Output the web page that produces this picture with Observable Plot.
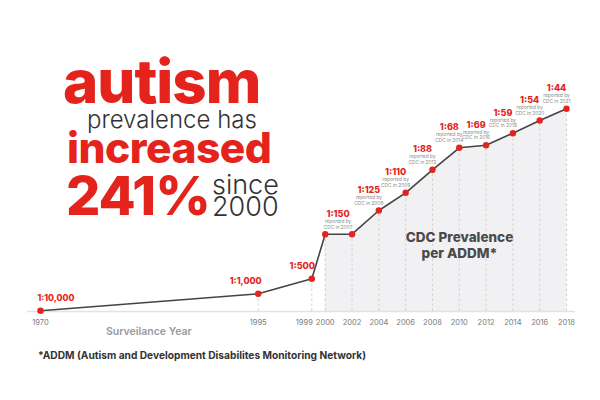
<!DOCTYPE html>
<html><head><meta charset="utf-8">
<script src="https://cdn.jsdelivr.net/npm/d3@7"></script>
<script src="https://cdn.jsdelivr.net/npm/@observablehq/plot@0.6"></script>
<style>
body{margin:0;background:#fff;font-family:Inter,"Open Sans",sans-serif}
#wrap{position:relative;width:600px;height:400px;overflow:hidden;background:#fff}
#chart{position:absolute;left:0;top:0}
.t{position:absolute;white-space:nowrap;line-height:1}
.b{line-height:0.75}
.red{color:#e4241c;font-weight:800}
.dark{color:#333;font-weight:300}
</style></head><body>
<div id="wrap">
<div id="chart"></div>
<div class="t b red" style="left:63px;top:58.5px;font-size:60px;letter-spacing:-1px">autism</div>
<div class="t b dark" style="left:87px;top:111px;font-size:24px">prevalence has</div>
<div class="t b red" style="left:67px;top:132.3px;font-size:42.5px;letter-spacing:-0.5px">increased</div>
<div class="t b red" style="left:66px;top:175.7px;font-size:54px;letter-spacing:-1px">241%</div>
<div class="t b dark" style="left:212px;top:175.4px;font-size:27px">since</div>
<div class="t b dark" style="left:212px;top:197.4px;font-size:27px">2000</div>
<div class="t" style="left:106px;top:327px;font-size:10.5px;font-weight:600;color:#9a9a9a">Surveilance Year</div>
<div class="t" style="left:38px;top:350px;font-size:10.2px;font-weight:700;color:#333">*ADDM (Autism and Development Disabilites Monitoring Network)</div>
</div>
<script>
const years = [1970, 1995, 1999, 2000, 2002, 2004, 2006, 2008, 2010, 2012, 2014, 2016, 2018];
const levels = [0.7, 17.7, 32.7, 77.3, 77.3, 101, 118.7, 141.7, 163.7, 166.3, 178.3, 191, 202.7];
const ratios = ["1:10,000", "1:1,000", "1:500", "", "1:150", "1:125", "1:110", "1:88", "1:68", "1:69", "1:59", "1:54", "1:44"];
const reportedIn = [null, null, null, null, 2007, 2009, 2009, 2012, 2014, 2016, 2018, 2020, 2021];
const tickYears = [1970, 1995, 1999, 2000, 2002, 2004, 2006, 2008, 2010, 2012, 2014, 2016, 2018];
const annotation = "CDC Prevalence\nper ADDM*";

const data = years.map((year, i) => ({year, level: levels[i], ratio: ratios[i], reported: reportedIn[i]}));
const RED = "#e4241c";
const FONT = "Inter, 'Open Sans', sans-serif";
const note = d => "reported by\nCDC in " + d.reported;

const chart = Plot.plot({
  width: 600, height: 400,
  marginLeft: 27, marginRight: 25, marginTop: 0, marginBottom: 0,
  style: {fontFamily: FONT, background: "transparent"},
  x: {type: "linear", domain: [1970, 1995, 2018], range: [40, 257.7, 566], axis: null},
  y: {domain: [0, 200], range: [311, 111], axis: null},
  marks: [
    Plot.areaY(data, {filter: d => d.year >= 2000, x: "year", y: "level", fill: "#f1f1f3"}),
    Plot.ruleX(data, {filter: d => d.year > 1970, x: "year", y1: 0, y2: "level", stroke: "#d9cfca", strokeWidth: 1, strokeDasharray: "2.5,2.5"}),
    Plot.ruleY([0], {stroke: "#e2e2e2", strokeWidth: 1.5}),
    Plot.line(data, {x: "year", y: "level", stroke: "#444", strokeWidth: 1.6}),
    Plot.dot(data, {x: "year", y: "level", r: 3.2, fill: RED}),
    // value labels
    Plot.text(data, {filter: d => d.year === 1970, x: "year", y: "level", text: "ratio", dx: -3, dy: -13, textAnchor: "start", fill: RED, fontWeight: 800, fontSize: 8.6}),
    Plot.text(data, {filter: d => d.year === 1995, x: "year", y: "level", text: "ratio", dx: -12.5, dy: -12.5, fill: RED, fontWeight: 800, fontSize: 8.8}),
    Plot.text(data, {filter: d => d.year === 1999, x: "year", y: "level", text: "ratio", dx: -9.5, dy: -12.5, fill: RED, fontWeight: 800, fontSize: 9}),
    Plot.text(data, {filter: d => d.year === 2002, x: "year", y: "level", text: "ratio", dx: -14, dy: -20, fill: RED, fontWeight: 800, fontSize: 9}),
    Plot.text(data, {filter: d => d.year > 2002, x: "year", y: "level", text: "ratio", dx: -10, dy: -20.5, fill: RED, fontWeight: 800, fontSize: 9}),
    // "reported by" notes
    Plot.text(data, {filter: d => d.reported && d.year !== 2002, x: "year", y: "level", text: note, dx: -10, dy: -10.5, lineHeight: 1.2, fontSize: 4.8, fill: "#8a8a8a"}),
    Plot.text(data, {filter: d => d.year === 2002, x: "year", y: "level", text: note, dx: -14, dy: -10, lineHeight: 1.2, fontSize: 4.8, fill: "#8a8a8a"}),
    // axis tick labels
    Plot.text(tickYears, {filter: d => d !== 1999, x: d => d, y: () => 0, text: d => String(d), dy: 11.5, fontSize: 7.5, fill: "#7a7a7a"}),
    Plot.text(tickYears, {filter: d => d === 1999, x: d => d, y: () => 0, text: d => String(d), dy: 11.5, dx: -7.5, fontSize: 7.5, fill: "#7a7a7a"}),
    // annotation
    Plot.text([annotation], {frameAnchor: "top-left", dx: 432, dy: 244.5, text: d => d, textAnchor: "middle", lineAnchor: "middle", lineHeight: 1.15, fontSize: 13.5, fontWeight: 800, fill: "#4a4a4a"})
  ]
});
document.getElementById("chart").appendChild(chart);
</script>
</body></html>
